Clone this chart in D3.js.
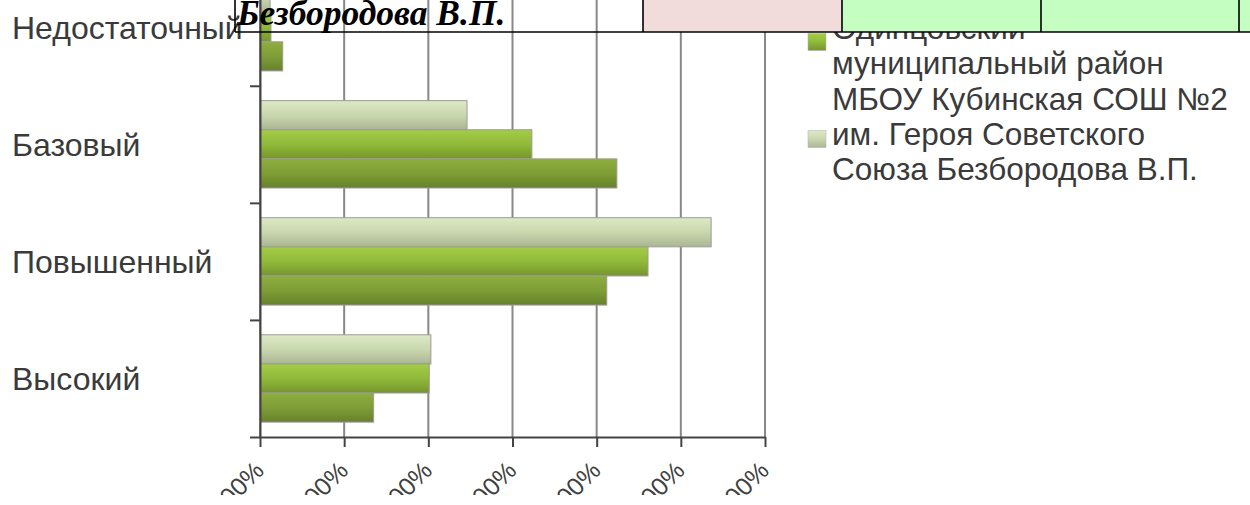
<!DOCTYPE html>
<html><head><meta charset="utf-8">
<script src="https://cdn.jsdelivr.net/npm/d3@7"></script>
<style>body{margin:0;background:#fff;overflow:hidden}svg{display:block}</style>
</head><body>
<svg id="c" width="1250" height="505"></svg>
<script>
// ---- data ----
const categories = ["Недостаточный", "Базовый", "Повышенный", "Высокий"];
const seriesKeys = ["school", "district", "region"];
const schoolValues   = [0.012, 0.246, 0.536, 0.203];
const districtValues = [0.013, 0.323, 0.461, 0.201];
const regionValues   = [0.027, 0.424, 0.412, 0.135];
const tickValues = [0, 0.1, 0.2, 0.3, 0.4, 0.5, 0.6];
const tickLabels = ["0,00%", "10,00%", "20,00%", "30,00%", "40,00%", "50,00%", "60,00%"];
const legendDistrict = ["Одинцовский", "муниципальный район"];
const legendSchool = ["МБОУ Кубинская СОШ №2", "им. Героя Советского", "Союза Безбородова В.П."];
const tableText = "Безбородова В.П.";

const valuesByKey = {school: schoolValues, district: districtValues, region: regionValues};
const svg = d3.select("#c");
const sans = "'Liberation Sans', Arial, sans-serif";

// gradients
const defs = svg.append("defs");
const grads = {
  school:   [["0", "#dde9c6"], ["0.5", "#c9d7ae"], ["1", "#abb594"]],
  district: [["0", "#a4cc48"], ["0.5", "#90ba39"], ["1", "#76952c"]],
  region:   [["0", "#8eae40"], ["0.5", "#7e9e36"], ["1", "#66822a"]]
};
Object.entries(grads).forEach(([k, stops]) => {
  const g = defs.append("linearGradient").attr("id", "g_" + k)
    .attr("x1", 0).attr("y1", 0).attr("x2", 0).attr("y2", 1);
  stops.forEach(s => g.append("stop").attr("offset", s[0]).attr("stop-color", s[1]));
});
// the picture of the chart is cut a little above the page bottom
defs.append("clipPath").attr("id", "pageClip")
  .append("rect").attr("x", 0).attr("y", 0).attr("width", 1250).attr("height", 495);

// scales
const x = d3.scaleLinear().domain([0, 0.6]).range([260, 765]);
const y = d3.scaleBand().domain(categories).range([-31.3, 437]).paddingInner(0.254).paddingOuter(0.127);
const yInner = d3.scaleBand().domain(seriesKeys).range([0, y.bandwidth()]);
const yb = d3.scaleLinear().domain([0, categories.length]).range([-31.3, 437]);

const chart = svg.append("g").attr("clip-path", "url(#pageClip)");

// gridlines
chart.append("g").selectAll("line").data(tickValues).join("line")
  .attr("x1", d => x(d)).attr("x2", d => x(d))
  .attr("y1", yb(0)).attr("y2", yb(categories.length))
  .attr("stroke", "#888").attr("stroke-width", 2);

// bars
seriesKeys.forEach(k => {
  chart.append("g").selectAll("rect").data(categories).join("rect")
    .attr("x", x(0))
    .attr("y", (c) => y(c) + yInner(k))
    .attr("width", (c, i) => x(valuesByKey[k][i]) - x(0))
    .attr("height", yInner.bandwidth())
    .attr("fill", "url(#g_" + k + ")")
    .attr("stroke", "#9b9b9b").attr("stroke-width", 1);
});

// x axis
const xAxis = chart.append("g").attr("transform", "translate(0,437)")
  .call(d3.axisBottom(x).tickValues(tickValues).tickSize(10).tickSizeOuter(0)
    .tickFormat((d, i) => tickLabels[i]));
xAxis.select(".domain").attr("stroke", "#444").attr("stroke-width", 2);
xAxis.selectAll(".tick line").attr("stroke", "#444").attr("stroke-width", 2);
xAxis.selectAll(".tick text")
  .attr("font-family", sans).attr("font-size", 25)
  .attr("fill", "#404040").attr("text-anchor", "end")
  .attr("y", 0).attr("dy", 0)
  .attr("transform", "translate(5,35) rotate(-45)");

// y axis (category boundary ticks)
const yAxis = chart.append("g").attr("transform", "translate(260,0)")
  .call(d3.axisLeft(yb).tickValues(d3.range(0, categories.length + 1)).tickSize(10)
    .tickSizeOuter(0).tickFormat(""));
yAxis.select(".domain").attr("stroke", "#444").attr("stroke-width", 2);
yAxis.selectAll(".tick line").attr("stroke", "#444").attr("stroke-width", 2);

// category labels
chart.append("g").selectAll("text").data(categories).join("text")
  .attr("x", 12).attr("y", c => y(c) + y.bandwidth() / 2 + 12)
  .attr("font-family", sans).attr("font-size", 32)
  .attr("fill", "#3a3a3a").text(c => c);

// legend
const lineH = 35;
function legendEntry(lines, firstBaseline, key, markerCy) {
  const g = chart.append("g");
  g.append("rect").attr("x", 808).attr("y", markerCy - 8.5).attr("width", 18).attr("height", 17)
    .attr("fill", "url(#g_" + key + ")").attr("stroke", "#b0b0b0").attr("stroke-width", 0.5);
  g.selectAll("text").data(lines).join("text")
    .attr("x", 832).attr("y", (d, i) => firstBaseline + i * lineH)
    .attr("font-family", sans).attr("font-size", 31.5).attr("fill", "#3a3a3a")
    .text(d => d);
}
legendEntry(legendDistrict, 39, "district", 42);
legendEntry(legendSchool, 109.5, "school", 139);

// overlapping document table (top strip)
const cells = [[643, 842, "#f2dcdb"], [842, 1041, "#c4fec0"], [1041, 1239, "#c4fec0"], [1239, 1252, "#c4fec0"]];
svg.append("g").selectAll("rect").data(cells).join("rect")
  .attr("x", d => d[0]).attr("y", -2).attr("width", d => d[1] - d[0]).attr("height", 34)
  .attr("fill", d => d[2]);
svg.append("line").attr("x1", 235).attr("x2", 1250).attr("y1", 32).attr("y2", 32)
  .attr("stroke", "#000").attr("stroke-width", 1.6);
svg.append("g").selectAll("line").data([235, 643, 842, 1041, 1239]).join("line")
  .attr("x1", d => d).attr("x2", d => d).attr("y1", 0).attr("y2", 32)
  .attr("stroke", "#000").attr("stroke-width", 1.6);
svg.append("text").attr("x", 237).attr("y", 24.5)
  .attr("font-family", "'Liberation Serif', serif").attr("font-weight", "bold").attr("font-style", "italic")
  .attr("font-size", 35.5).attr("fill", "#000").text(tableText);
</script>
</body></html>
